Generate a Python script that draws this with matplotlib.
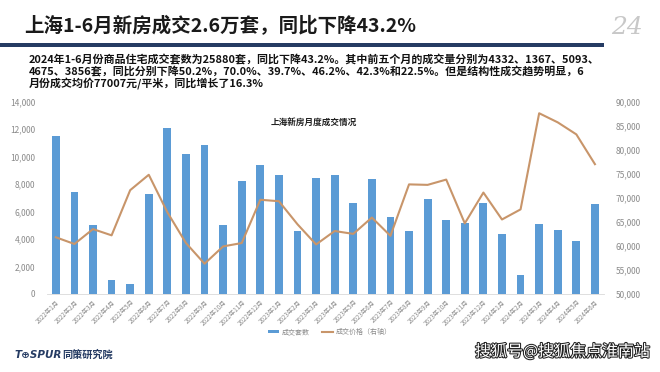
import matplotlib.pyplot as plt
import matplotlib.patheffects as pe
from matplotlib.patches import Rectangle

plt.rcParams['font.family'] = ['Noto Sans CJK SC', 'DejaVu Sans']

# --- Data ---
months = [f"2022年{m}月" for m in range(1, 13)] + \
         [f"2023年{m}月" for m in range(1, 13)] + \
         [f"2024年{m}月" for m in range(1, 7)]
units = [11500, 7400, 5000, 1000, 700, 7250, 12050, 10200, 10850, 5050,
         8250, 9400, 8650, 4550, 8450, 8650, 6650, 8400, 5600, 4600,
         6950, 5400, 5200, 6650, 4332, 1367, 5093, 4675, 3856, 6557]
prices = [61800, 60400, 63500, 62200, 71600, 74800, 67000, 60600, 56300, 59900,
          60600, 69600, 69300, 64500, 60300, 63100, 62500, 65900, 62100, 72800,
          72700, 73800, 64700, 71100, 65500, 67600, 87600, 85700, 83200, 77007]
para_lines = [
    "2024年1-6月份商品住宅成交套数为25880套，同比下降43.2%。其中前五个月的成交量分别为4332、1367、5093、",
    "4675、3856套，同比分别下降50.2%，70.0%、39.7%、46.2%、42.3%和22.5%。但是结构性成交趋势明显，6",
    "月份成交均价77007元/平米，同比增长了16.3%",
]

BAR_COLOR = "#5B9BD5"
LINE_COLOR = "#C8956A"
TICK_COLOR = "#8a8a8a"
NAVY = "#253B63"

fig = plt.figure(figsize=(6.6, 3.72), dpi=100)
fig.patch.set_facecolor("white")

# header
fig.text(0.037, 0.93, "上海1-6月新房成交2.6万套，同比下降43.2%", fontsize=14,
         fontweight="bold", color="#1a1a1a", va="center")
fig.add_artist(Rectangle((0, 0.873), 0.915, 0.012, transform=fig.transFigure,
                         color=NAVY, lw=0))
fig.text(0.95, 0.925, "24", fontsize=18, style="italic", color="#c8c8c8",
         family="DejaVu Serif", va="center", ha="center")

for i, txt in enumerate(para_lines):
    fig.text(0.044, 0.8414 - i * 0.0336, txt, fontsize=7.9, fontweight="bold",
             color="#111111", va="center")

# chart
ax = fig.add_axes([0.0705, 0.2097, 0.845, 0.5169])
x = range(len(months))
bars = ax.bar(x, units, width=0.42, color=BAR_COLOR, label="成交套数", zorder=2)
ax.set_xlim(-0.5, len(months) - 0.5)
ax.set_ylim(0, 14000)
ax.set_yticks(range(0, 14001, 2000))
ax.set_yticklabels([f"{v:,}" for v in range(0, 14001, 2000)])
ax.set_xticks(list(x))
ax.set_xticklabels(months, rotation=45, ha="right", rotation_mode="anchor",
                   fontsize=4.5, color=TICK_COLOR)
ax.tick_params(axis="y", labelsize=6, colors=TICK_COLOR, length=0, pad=8)
ax.tick_params(axis="x", length=0, pad=3)
for side in ("top", "right", "left"):
    ax.spines[side].set_visible(False)
ax.spines["bottom"].set_color("#d9d9d9")
ax.spines["bottom"].set_linewidth(0.6)

ax2 = ax.twinx()
line, = ax2.plot(list(x), prices, color=LINE_COLOR, lw=1.5, label="成交价格（右轴）", zorder=3)
ax2.set_ylim(50000, 90000)
ax2.set_yticks(range(50000, 90001, 5000))
ax2.set_yticklabels([f"{v:,}" for v in range(50000, 90001, 5000)])
ax2.tick_params(axis="y", labelsize=6, colors=TICK_COLOR, length=0, pad=8)
for side in ("top", "right", "left", "bottom"):
    ax2.spines[side].set_visible(False)

fig.text(0.476, 1 - 122 / 372, "上海新房月度成交情况", fontsize=6.2, fontweight="bold",
         color="#222222", ha="center", va="center")

fig.legend([bars, line], ["成交套数", "成交价格（右轴）"], loc="center",
           bbox_to_anchor=(0.5, 0.1075), ncol=2, frameon=False, fontsize=5,
           labelcolor=TICK_COLOR, handlelength=1.6, handleheight=0.4,
           handletextpad=0.4, columnspacing=1.8)

# footer
fig.text(0.022, 0.046, "T⊕SPUR", fontsize=7.5, fontweight="bold", style="italic",
         color=NAVY, va="center", family="DejaVu Sans")
fig.text(0.094, 0.046, "同策研究院", fontsize=7.3, fontweight="bold", style="italic",
         color=NAVY, va="center")
fig.text(0.985, 0.054, "搜狐号@搜狐焦点淮南站", fontsize=11.5, color="white",
         ha="right", va="center",
         path_effects=[pe.withStroke(linewidth=1.5, foreground="#222222")])

fig.savefig("out.png", dpi=100, facecolor="white")
